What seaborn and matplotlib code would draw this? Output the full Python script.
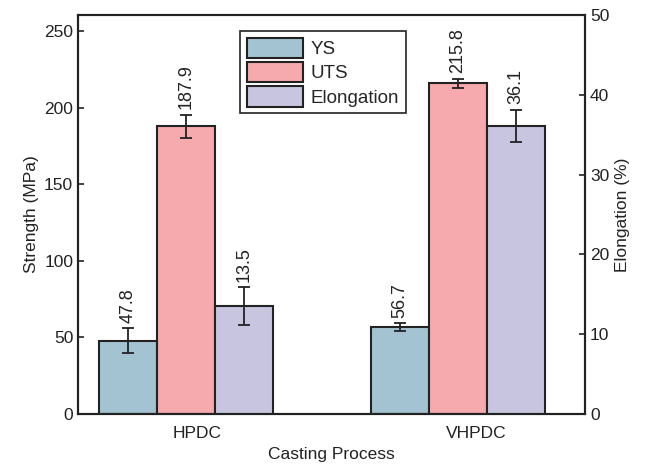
import matplotlib
matplotlib.use("Agg")
import matplotlib.pyplot as plt
from matplotlib.patches import Patch
import seaborn as sns
import pandas as pd

processes = ["HPDC", "VHPDC"]
properties = ["YS", "UTS", "Elongation"]
ys = [47.8, 56.7]
ys_err = [8.0, 2.5]
uts = [187.9, 215.8]
uts_err = [7.5, 3.0]
elong = [13.5, 36.1]
elong_err = [2.4, 2.0]
colors = {"YS": "#A4C3D2", "UTS": "#F7AAAD", "Elongation": "#C8C5E1"}

sns.set_style("ticks")
plt.rcParams["font.family"] = ["Liberation Sans", "DejaVu Sans"]
plt.rcParams["font.size"] = 12

strength = pd.DataFrame({
    "Process": processes * 2,
    "Property": ["YS"] * 2 + ["UTS"] * 2,
    "Value": ys + uts,
    "Err": ys_err + uts_err,
})
elong_df = pd.DataFrame({
    "Process": processes,
    "Property": ["Elongation"] * 2,
    "Value": elong,
    "Err": elong_err,
})

fig = plt.figure(figsize=(6.45, 4.73), dpi=100)
ax1 = fig.add_axes([0.121, 0.125, 0.786, 0.843])
ax2 = ax1.twinx()

common = dict(x="Process", y="Value", hue="Property", hue_order=properties,
              order=processes, palette=colors, width=0.64, errorbar=None,
              edgecolor="#222222", linewidth=1.5, legend=False, saturation=1,
              dodge=True)
sns.barplot(data=strength, ax=ax1, **common)
sns.barplot(data=elong_df, ax=ax2, **common)

def annotate(ax, df):
    for p in ax.patches:
        h = p.get_height()
        if not h == h or h == 0:
            continue
        row = df.iloc[(df["Value"] - h).abs().argmin()]
        xc = p.get_x() + p.get_width() / 2
        ax.errorbar(xc, h, yerr=row["Err"], color="#222222", capsize=4,
                    elinewidth=1.3, capthick=1.3, zorder=5)
        ax.annotate(f"{row['Value']:.1f}", (xc, h + row["Err"]), xytext=(0, 4),
                    textcoords="offset points", rotation=90, ha="center",
                    va="bottom", fontsize=13, color="#222222")

annotate(ax1, strength)
annotate(ax2, elong_df)

ax1.set_ylim(0, 260.4)
ax2.set_ylim(0, 50)
ax1.set_yticks([0, 50, 100, 150, 200, 250])
ax2.set_yticks([0, 10, 20, 30, 40, 50])
ax1.set_xlim(-0.397, 1.467)
ax1.set_xticks([0.04, 1.066])
ax1.set_xticklabels(processes)

ax1.set_xlabel("Casting Process", fontsize=12.5, color="#222222")
ax1.set_ylabel("Strength (MPa)", fontsize=12.5, color="#222222")
ax2.set_ylabel("Elongation (%)", fontsize=12.5, color="#222222")

for ax in (ax1, ax2):
    for s in ax.spines.values():
        s.set_visible(True)
        s.set_linewidth(1.5)
        s.set_color("#222222")
    ax.tick_params(axis="y", direction="in", length=4, width=1.2,
                   labelsize=12.5, colors="#222222")
ax1.tick_params(axis="x", length=0, labelsize=12.5, colors="#222222", pad=9)
ax2.tick_params(axis="x", length=0)

handles = [Patch(facecolor=colors[k], edgecolor="#222222", linewidth=1.5, label=k)
           for k in properties]
leg = ax2.legend(handles=handles, loc="upper left", bbox_to_anchor=(0.32, 0.96),
                 borderaxespad=0, frameon=True, fancybox=False, fontsize=13.5,
                 handlelength=3.0, handleheight=1.3, handletextpad=0.4,
                 labelspacing=0.2, borderpad=0.35)
leg.get_frame().set_edgecolor("#222222")
leg.get_frame().set_linewidth(1.2)
leg.get_frame().set_alpha(1)

fig.savefig("out.png", dpi=100)
